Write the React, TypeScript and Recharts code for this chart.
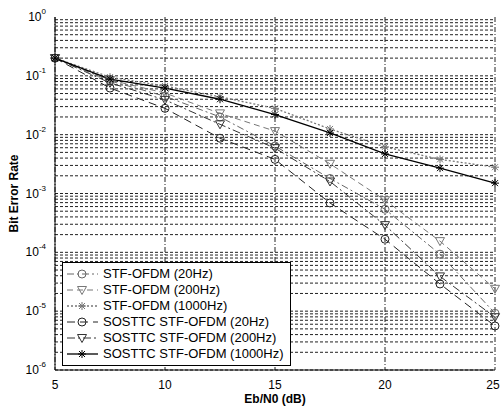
import React from "react";
import { LineChart, Line, XAxis, YAxis, CartesianGrid, ReferenceLine } from "recharts";

const snr = [5, 7.5, 10, 12.5, 15, 17.5, 20, 22.5, 25];
const stf20 = [0.2, 0.082, 0.045, 0.02, 0.0064, 0.0018, 5.4e-4, 9.3e-5, 9.2e-6];
const stf200 = [0.2, 0.085, 0.051, 0.023, 0.0115, 0.0032, 7.7e-4, 1.55e-4, 2.4e-5];
const stf1000 = [0.2, 0.095, 0.067, 0.044, 0.028, 0.0125, 0.0062, 0.0038, 0.0028];
const sos20 = [0.2, 0.062, 0.028, 0.0087, 0.0038, 6.9e-4, 1.67e-4, 2.9e-5, 5.6e-6];
const sos200 = [0.2, 0.076, 0.039, 0.015, 0.0059, 0.0016, 2.9e-4, 3.9e-5, 7.9e-6];
const sos1000 = [0.2, 0.088, 0.062, 0.04, 0.022, 0.0107, 0.0047, 0.0027, 0.0015];

const xTicks = [5, 10, 15, 20, 25];
const yTicks = [1e-6, 1e-5, 1e-4, 1e-3, 1e-2, 1e-1, 1];
const minorGrid = [-6, -5, -4, -3, -2, -1].flatMap((e) =>
  [1, 2, 3, 4, 5, 6, 7, 8, 9].map((m) => m * Math.pow(10, e))
);

const data = snr.map((x, i) => ({
  snr: x,
  stf20: stf20[i],
  stf200: stf200[i],
  stf1000: stf1000[i],
  sos20: sos20[i],
  sos200: sos200[i],
  sos1000: sos1000[i],
}));

type Marker = "circle" | "triangle" | "star";

const series: { key: string; name: string; color: string; dash?: string; width: number; marker: Marker }[] = [
  { key: "stf20", name: "STF-OFDM (20Hz)", color: "#666", dash: "7 3 2 3", width: 1, marker: "circle" },
  { key: "stf200", name: "STF-OFDM (200Hz)", color: "#777", dash: "6 4", width: 1, marker: "triangle" },
  { key: "stf1000", name: "STF-OFDM (1000Hz)", color: "#777", dash: "2 2", width: 1.3, marker: "star" },
  { key: "sos20", name: "SOSTTC STF-OFDM (20Hz)", color: "#222", dash: "8 5", width: 1, marker: "circle" },
  { key: "sos200", name: "SOSTTC STF-OFDM (200Hz)", color: "#333", dash: "8 3 2 3", width: 1, marker: "triangle" },
  { key: "sos1000", name: "SOSTTC STF-OFDM (1000Hz)", color: "#000", width: 1.3, marker: "star" },
];

const FONT = "Liberation Sans, Arial, sans-serif";

function MarkerShape({ cx, cy, type, color }: { cx: number; cy: number; type: Marker; color: string }) {
  if (type === "circle") {
    return <circle cx={cx} cy={cy} r={4} fill="none" stroke={color} strokeWidth={1} />;
  }
  if (type === "triangle") {
    return (
      <polygon
        points={`${cx - 4.5},${cy - 3.5} ${cx + 4.5},${cy - 3.5} ${cx},${cy + 4.5}`}
        fill="none"
        stroke={color}
        strokeWidth={1}
      />
    );
  }
  return (
    <g stroke={color} strokeWidth={1}>
      <line x1={cx - 4} y1={cy} x2={cx + 4} y2={cy} />
      <line x1={cx} y1={cy - 4} x2={cx} y2={cy + 4} />
      <line x1={cx - 3} y1={cy - 3} x2={cx + 3} y2={cy + 3} />
      <line x1={cx - 3} y1={cy + 3} x2={cx + 3} y2={cy - 3} />
    </g>
  );
}

function YTick({ x, y, payload }: any) {
  const exp = Math.round(Math.log10(payload.value));
  return (
    <text x={x - 1} y={y + 4} textAnchor="end" fontSize={12} fill="#000">
      10
      <tspan dy={-7} fontSize={8}>
        {exp}
      </tspan>
    </text>
  );
}

function XTick({ x, y, payload }: any) {
  return (
    <text x={x} y={y + 11} textAnchor="middle" fontSize={12} fill="#000">
      {payload.value}
    </text>
  );
}

function LegendBox() {
  return (
    <div
      style={{
        position: "absolute",
        left: 62,
        top: 262,
        border: "1px solid #000",
        background: "#fff",
        padding: "3px 4px 3px 3px",
        fontFamily: FONT,
        fontSize: 13,
        lineHeight: "16px",
        whiteSpace: "nowrap",
        width: 229,
        boxSizing: "border-box",
      }}
    >
      {series.map((s) => (
        <div key={s.key} style={{ display: "flex", alignItems: "center", height: 16 }}>
          <svg width={34} height={12} style={{ marginRight: 3 }}>
            <line x1={1} y1={6} x2={32} y2={6} stroke={s.color} strokeWidth={s.width} strokeDasharray={s.dash ?? "0"} />
            <MarkerShape cx={16} cy={6} type={s.marker} color={s.color} />
          </svg>
          <span>{s.name}</span>
        </div>
      ))}
    </div>
  );
}

export default function App() {
  return (
    <div style={{ position: "absolute", left: 0, top: 0, width: 501, height: 409, background: "#fff" }}>
      <LineChart
        width={501}
        height={409}
        data={data}
        margin={{ top: 17, right: 6, bottom: 14, left: 10 }}
        style={{ fontFamily: FONT }}
      >
        <CartesianGrid horizontal={false} stroke="#222" strokeDasharray="5 2 1 2" />
        {minorGrid.map((v) => (
          <ReferenceLine key={v} y={v} stroke="#222" strokeDasharray="3 2" />
        ))}
        <XAxis
          dataKey="snr"
          type="number"
          domain={[5, 25]}
          ticks={xTicks}
          height={25}
          tickLine={false}
          axisLine={{ stroke: "#000" }}
          tick={<XTick />}
          label={{
            value: "Eb/N0 (dB)",
            position: "insideBottom",
            offset: -8,
            fontSize: 12,
            fontWeight: "bold",
            fill: "#000",
          }}
        />
        <XAxis
          xAxisId="top"
          orientation="top"
          dataKey="snr"
          type="number"
          domain={[5, 25]}
          height={0}
          tick={false}
          tickLine={false}
          axisLine={{ stroke: "#000" }}
        />
        <YAxis
          scale="log"
          type="number"
          domain={[1e-6, 1]}
          ticks={yTicks}
          width={45}
          tickLine={false}
          axisLine={{ stroke: "#000" }}
          tick={<YTick />}
          allowDataOverflow
          label={{
            value: "Bit Error Rate",
            angle: -90,
            position: "insideLeft",
            offset: 4,
            fontSize: 12,
            fontWeight: "bold",
            fill: "#000",
            style: { textAnchor: "middle" },
          }}
        />
        <YAxis
          yAxisId="right"
          orientation="right"
          scale="log"
          type="number"
          domain={[1e-6, 1]}
          allowDataOverflow
          width={0}
          tick={false}
          tickLine={false}
          axisLine={{ stroke: "#000" }}
        />
        {series.map((s) => (
          <Line
            key={s.key}
            dataKey={s.key}
            name={s.name}
            stroke={s.color}
            strokeWidth={s.width}
            strokeDasharray={s.dash}
            isAnimationActive={false}
            dot={(p: any) => (
              <MarkerShape key={`${s.key}-${p.index}`} cx={p.cx} cy={p.cy} type={s.marker} color={s.color} />
            )}
            activeDot={false}
          />
        ))}
      </LineChart>
      <LegendBox />
    </div>
  );
}
